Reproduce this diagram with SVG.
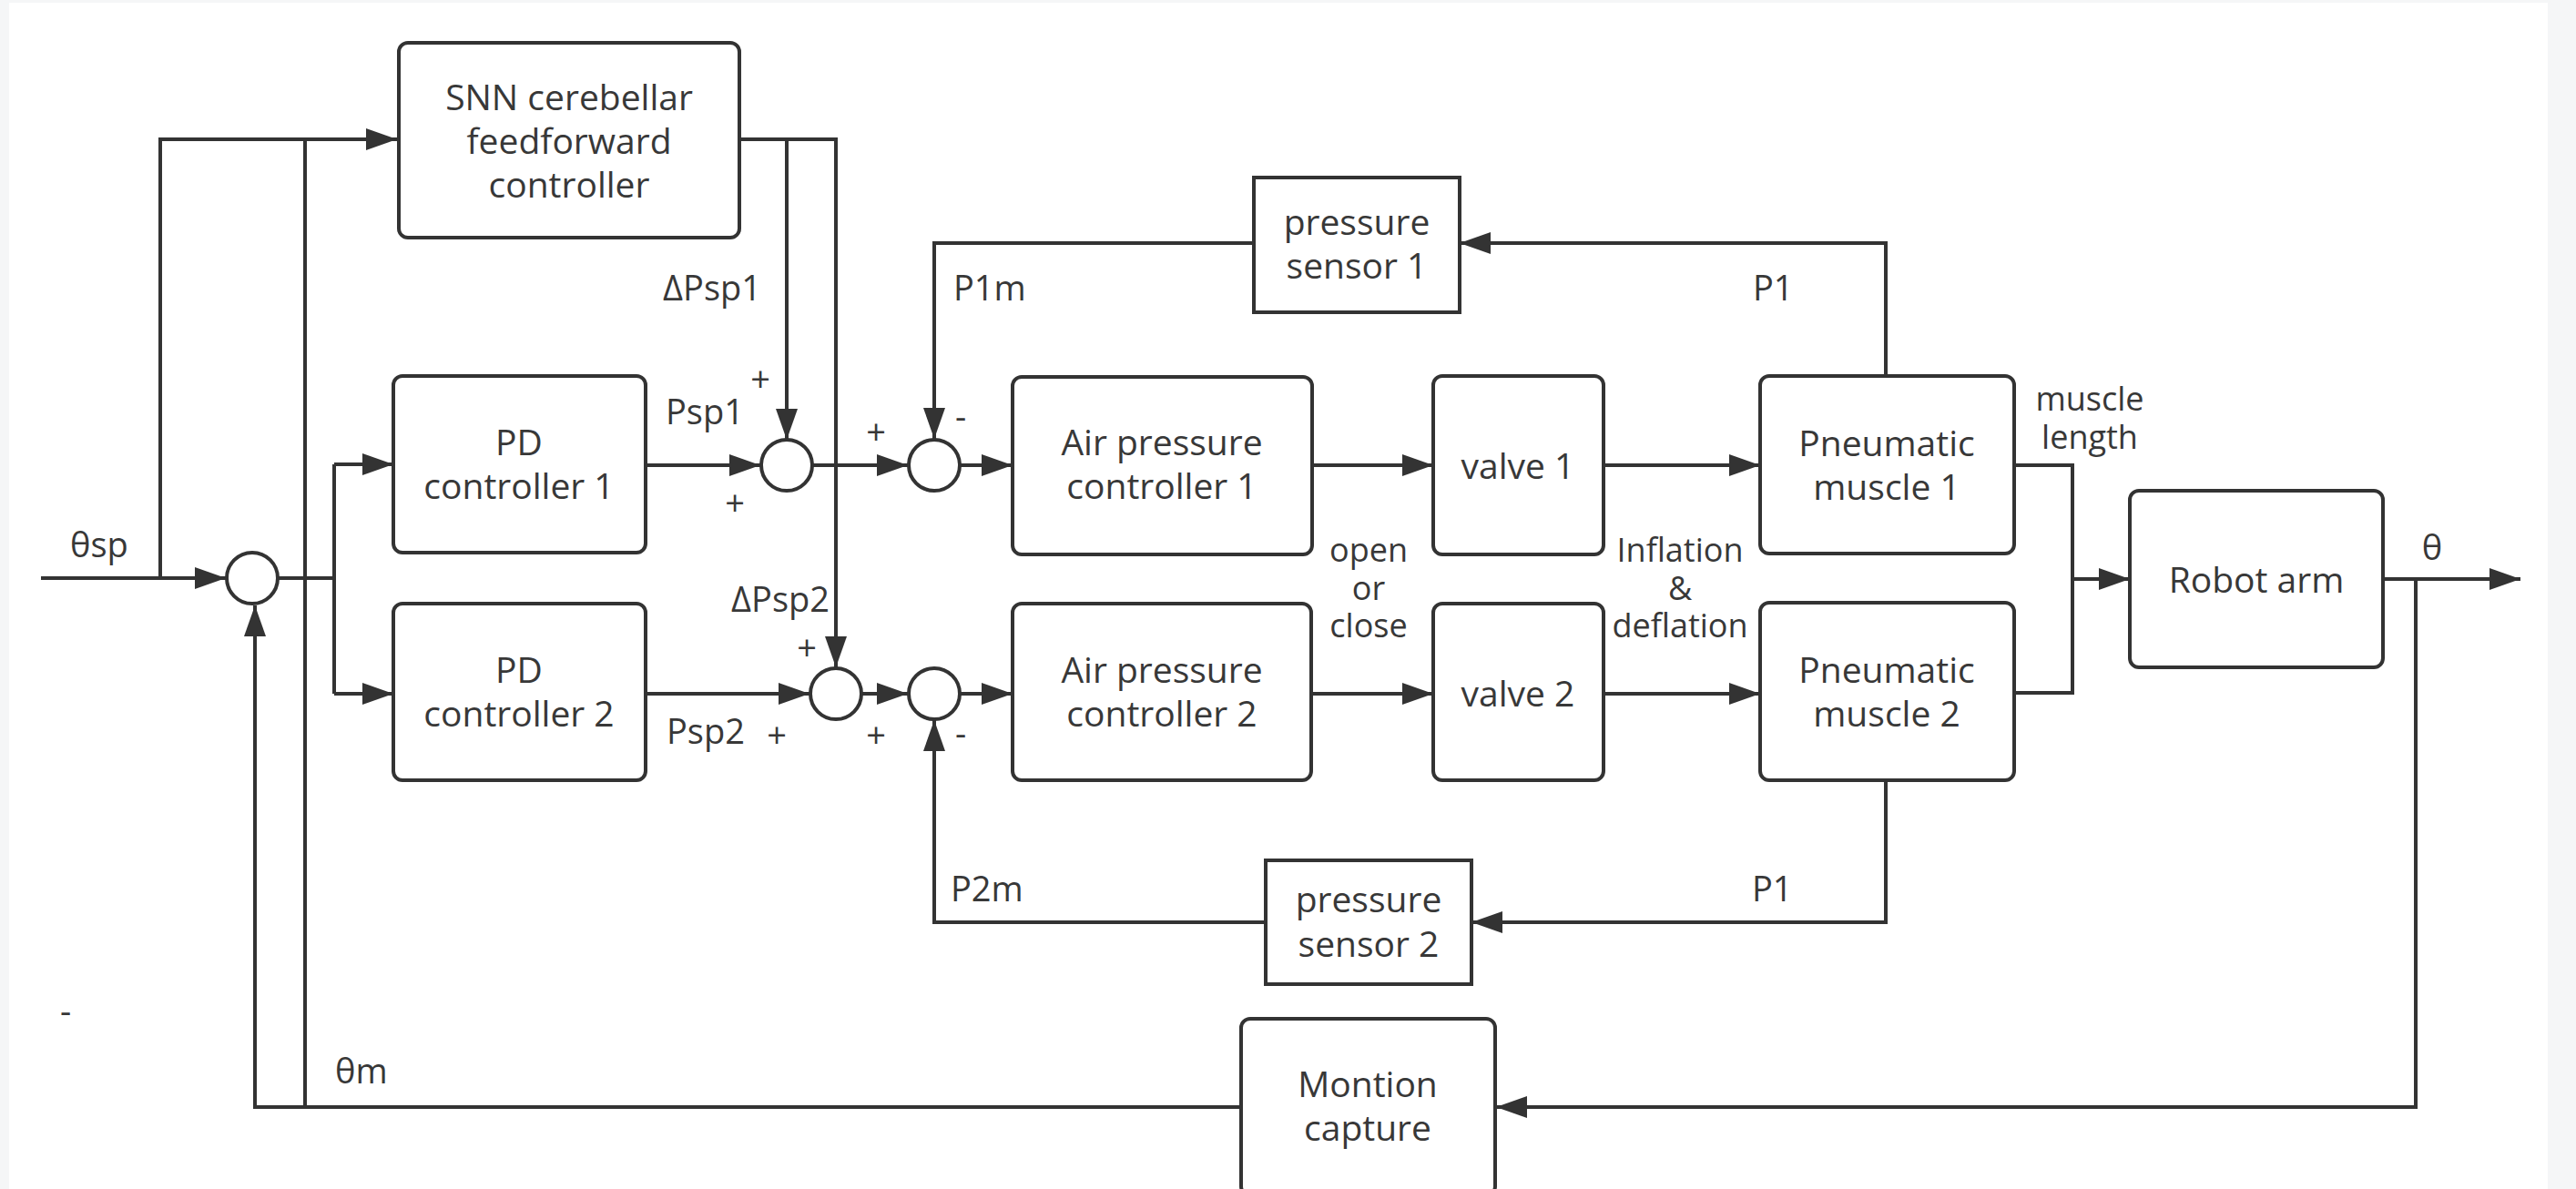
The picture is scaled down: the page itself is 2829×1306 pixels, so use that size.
<svg xmlns="http://www.w3.org/2000/svg" width="2829" height="1306" viewBox="0 0 2829 1306">
<style>
.box{fill:#fff;stroke:#333;stroke-width:4}
.j{fill:#fff;stroke:#333;stroke-width:4}
.c{fill:none;stroke:#333;stroke-width:4}
.a{marker-end:url(#ah)}
text{font-family:"Open Sans","Noto Sans",sans-serif;fill:#383838}
.t{font-size:39px;text-anchor:middle}
.l{font-size:38px}
.s{font-size:36px;text-anchor:middle}
.m{text-anchor:middle}
.e{text-anchor:end}
</style>
<defs>
<marker id="ah" viewBox="0 0 34 24" markerWidth="34" markerHeight="24" refX="34" refY="12" orient="auto" markerUnits="userSpaceOnUse">
<path d="M0,0 L34,12 L0,24 z" fill="#333"/>
</marker>
</defs>
<rect x="0" y="0" width="2829" height="1306" fill="#f5f6f7"/>
<rect x="10" y="3" width="2788" height="1303" fill="#fff"/>

<g id="connectors">
<path class="c a" d="M45,635 H248"/>
<path class="c a" d="M176,635 V153 H436"/>
<path class="c a" d="M1363,1216 H280 V665"/>
<path class="c" d="M335,1216 V153"/>
<path class="c" d="M305,635 H367"/>
<path class="c" d="M367,510 V762"/>
<path class="c a" d="M367,510 H432"/>
<path class="c a" d="M367,762 H432"/>
<path class="c a" d="M812,153 H918 V733"/>
<path class="c a" d="M864,153 V483"/>
<path class="c a" d="M709,511 H835"/>
<path class="c a" d="M892,511 H997"/>
<path class="c a" d="M1054,511 H1112"/>
<path class="c a" d="M1441,511 H1574"/>
<path class="c a" d="M1761,511 H1933"/>
<path class="c a" d="M2071,413 V267 H1603"/>
<path class="c a" d="M1377,267 H1026 V482"/>
<path class="c a" d="M709,762 H889"/>
<path class="c a" d="M946,762 H997"/>
<path class="c a" d="M1054,762 H1112"/>
<path class="c a" d="M1440,762 H1574"/>
<path class="c a" d="M1761,762 H1933"/>
<path class="c a" d="M2071,857 V1013 H1616"/>
<path class="c a" d="M1390,1013 H1026 V791"/>
<path class="c" d="M2212,511 H2276 V761 H2212"/>
<path class="c a" d="M2276,636 H2339"/>
<path class="c a" d="M2617,636 H2768"/>
<path class="c a" d="M2653,636 V1216 H1643"/>
</g>

<g id="snn"><rect class="box" x="438" y="47" width="374" height="214" rx="10"/>
<text class="t" x="625" y="121">SNN cerebellar</text><text class="t" x="625" y="169">feedforward</text><text class="t" x="625" y="217">controller</text></g>
<g id="pd1"><rect class="box" x="432" y="413" width="277" height="194" rx="10"/>
<text class="t" x="570" y="500">PD</text><text class="t" x="570" y="548">controller 1</text></g>
<g id="pd2"><rect class="box" x="432" y="663" width="277" height="194" rx="10"/>
<text class="t" x="570" y="750">PD</text><text class="t" x="570" y="798">controller 2</text></g>
<g id="apc1"><rect class="box" x="1112" y="414" width="329" height="195" rx="10"/>
<text class="t" x="1276" y="500">Air pressure</text><text class="t" x="1276" y="548">controller 1</text></g>
<g id="apc2"><rect class="box" x="1112" y="663" width="328" height="194" rx="10"/>
<text class="t" x="1276" y="750">Air pressure</text><text class="t" x="1276" y="798">controller 2</text></g>
<g id="valve1"><rect class="box" x="1574" y="413" width="187" height="196" rx="10"/>
<text class="t" x="1667" y="526">valve 1</text></g>
<g id="valve2"><rect class="box" x="1574" y="663" width="187" height="194" rx="10"/>
<text class="t" x="1667" y="776">valve 2</text></g>
<g id="pm1"><rect class="box" x="1933" y="413" width="279" height="195" rx="10"/>
<text class="t" x="2072" y="501">Pneumatic</text><text class="t" x="2072" y="549">muscle 1</text></g>
<g id="pm2"><rect class="box" x="1933" y="662" width="279" height="195" rx="10"/>
<text class="t" x="2072" y="750">Pneumatic</text><text class="t" x="2072" y="798">muscle 2</text></g>
<g id="robot"><rect class="box" x="2339" y="539" width="278" height="194" rx="10"/>
<text class="t" x="2478" y="651">Robot arm</text></g>
<g id="ps1"><rect class="box" x="1377" y="195" width="226" height="148"/>
<text class="t" x="1490" y="258">pressure</text><text class="t" x="1490" y="306">sensor 1</text></g>
<g id="ps2"><rect class="box" x="1390" y="945" width="226" height="136"/>
<text class="t" x="1503" y="1002">pressure</text><text class="t" x="1503" y="1051">sensor 2</text></g>
<g id="mocap"><rect class="box" x="1363" y="1119" width="279" height="194" rx="10"/>
<text class="t" x="1502" y="1205">Montion</text><text class="t" x="1502" y="1253">capture</text></g>

<g id="j0"><circle class="j" cx="277" cy="635" r="28"/></g>
<g id="j1"><circle class="j" cx="864" cy="511" r="28"/></g>
<g id="j2"><circle class="j" cx="1026" cy="511" r="28"/></g>
<g id="j3"><circle class="j" cx="918" cy="762" r="28"/></g>
<g id="j4"><circle class="j" cx="1026" cy="762" r="28"/></g>

<g id="labels">
<text class="l" x="77" y="612">θsp</text>
<text class="l e" x="836" y="330">ΔPsp1</text>
<text class="l m" x="835" y="430">+</text>
<text class="l" x="731" y="466">Psp1</text>
<text class="l m" x="807" y="566">+</text>
<text class="l m" x="962" y="488">+</text>
<text class="l m" x="1055" y="471">-</text>
<text class="l" x="1047" y="330">P1m</text>
<text class="l" x="1925" y="330">P1</text>
<text class="l e" x="911" y="672">ΔPsp2</text>
<text class="l m" x="886" y="725">+</text>
<text class="l" x="732" y="817">Psp2</text>
<text class="l m" x="853" y="821">+</text>
<text class="l m" x="962" y="821">+</text>
<text class="l m" x="1055" y="819">-</text>
<text class="l" x="1044" y="990">P2m</text>
<text class="l" x="1924" y="990">P1</text>
<text class="s" x="1503" y="617">open</text>
<text class="s" x="1503" y="659">or</text>
<text class="s" x="1503" y="700">close</text>
<text class="s" x="1845" y="617">Inflation</text>
<text class="s" x="1845" y="659">&amp;</text>
<text class="s" x="1845" y="700">deflation</text>
<text class="s" x="2295" y="451">muscle</text>
<text class="s" x="2295" y="493">length</text>
<text class="l m" x="2671" y="615">θ</text>
<text class="l" x="368" y="1190">θm</text>
<text class="l m" x="72" y="1124">-</text>
</g>
</svg>
